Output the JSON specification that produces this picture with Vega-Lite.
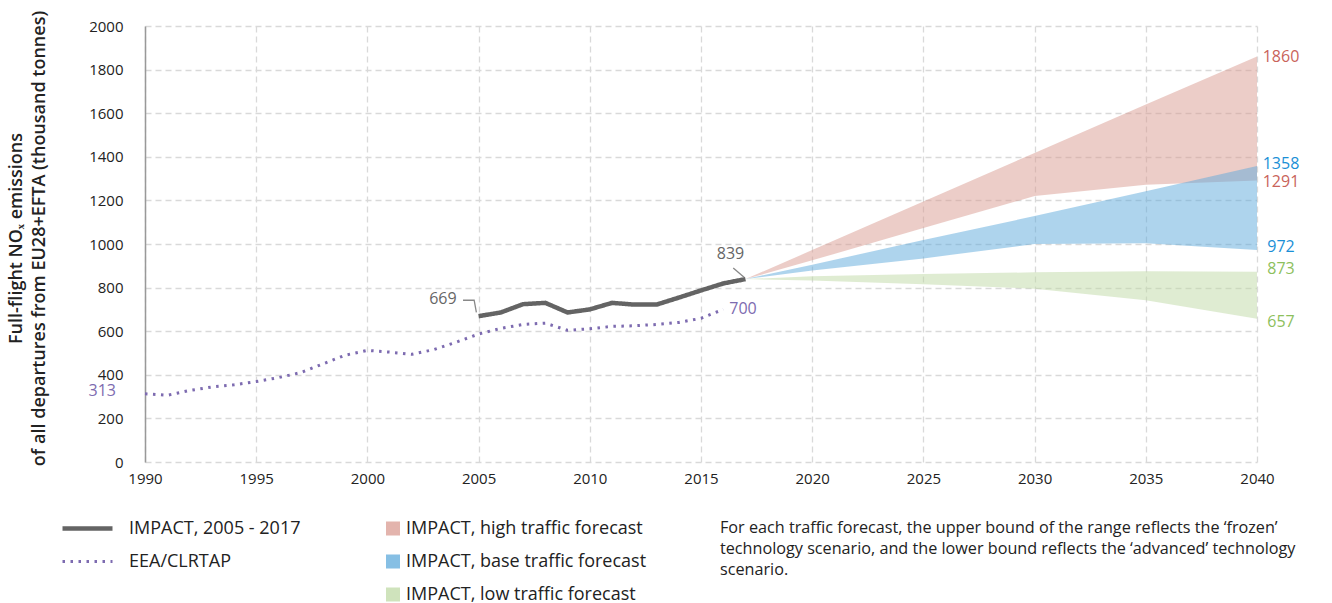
{
  "$schema": "https://vega.github.io/schema/vega-lite/v6.json",
  "width": 1112,
  "height": 436,
  "autosize": {"type": "none"},
  "padding": {"left": 145, "top": 26, "right": 75, "bottom": 141},
  "background": "white",
  "config": {
    "font": "Open Sans",
    "view": {"stroke": null},
    "axis": {
      "gridColor": "#d9d9d9",
      "gridDash": [6, 4],
      "gridWidth": 1.3,
      "labelFontSize": 15,
      "labelColor": "#222",
      "ticks": false,
      "tickSize": 0
    }
  },
  "title": {
    "text": [
      "For each traffic forecast, the upper bound of the range reflects the ‘frozen’",
      "technology scenario, and the lower bound reflects the ‘advanced’ technology",
      "scenario."
    ],
    "orient": "top",
    "anchor": "start",
    "frame": "group",
    "baseline": "top",
    "dx": 575,
    "dy": 568,
    "offset": 0,
    "fontSize": 16.2,
    "fontWeight": "normal",
    "color": "#222",
    "lineHeight": 21
  },
  "datasets": {
    "bands": [
      {"forecast": "IMPACT, high traffic forecast", "year": 2017, "lo": 839, "hi": 839},
      {"forecast": "IMPACT, high traffic forecast", "year": 2020, "lo": 925, "hi": 972},
      {"forecast": "IMPACT, high traffic forecast", "year": 2025, "lo": 1073, "hi": 1195},
      {"forecast": "IMPACT, high traffic forecast", "year": 2030, "lo": 1220, "hi": 1418},
      {"forecast": "IMPACT, high traffic forecast", "year": 2035, "lo": 1272, "hi": 1640},
      {"forecast": "IMPACT, high traffic forecast", "year": 2040, "lo": 1291, "hi": 1860},
      {"forecast": "IMPACT, base traffic forecast", "year": 2017, "lo": 839, "hi": 839},
      {"forecast": "IMPACT, base traffic forecast", "year": 2020, "lo": 878, "hi": 905},
      {"forecast": "IMPACT, base traffic forecast", "year": 2025, "lo": 934, "hi": 1018},
      {"forecast": "IMPACT, base traffic forecast", "year": 2030, "lo": 1000, "hi": 1128},
      {"forecast": "IMPACT, base traffic forecast", "year": 2035, "lo": 1003, "hi": 1242},
      {"forecast": "IMPACT, base traffic forecast", "year": 2040, "lo": 972, "hi": 1358},
      {"forecast": "IMPACT, low traffic forecast", "year": 2017, "lo": 839, "hi": 839},
      {"forecast": "IMPACT, low traffic forecast", "year": 2020, "lo": 832, "hi": 852},
      {"forecast": "IMPACT, low traffic forecast", "year": 2025, "lo": 815, "hi": 862},
      {"forecast": "IMPACT, low traffic forecast", "year": 2030, "lo": 795, "hi": 870},
      {"forecast": "IMPACT, low traffic forecast", "year": 2035, "lo": 742, "hi": 875},
      {"forecast": "IMPACT, low traffic forecast", "year": 2040, "lo": 657, "hi": 873}
    ],
    "lines": [
      {"series": "IMPACT, 2005 - 2017", "year": 2005, "value": 669},
      {"series": "IMPACT, 2005 - 2017", "year": 2006, "value": 686},
      {"series": "IMPACT, 2005 - 2017", "year": 2007, "value": 724},
      {"series": "IMPACT, 2005 - 2017", "year": 2008, "value": 730},
      {"series": "IMPACT, 2005 - 2017", "year": 2009, "value": 686},
      {"series": "IMPACT, 2005 - 2017", "year": 2010, "value": 700},
      {"series": "IMPACT, 2005 - 2017", "year": 2011, "value": 730},
      {"series": "IMPACT, 2005 - 2017", "year": 2012, "value": 722},
      {"series": "IMPACT, 2005 - 2017", "year": 2013, "value": 722},
      {"series": "IMPACT, 2005 - 2017", "year": 2014, "value": 754},
      {"series": "IMPACT, 2005 - 2017", "year": 2015, "value": 787},
      {"series": "IMPACT, 2005 - 2017", "year": 2016, "value": 819},
      {"series": "IMPACT, 2005 - 2017", "year": 2017, "value": 839},
      {"series": "EEA/CLRTAP", "year": 1990, "value": 313},
      {"series": "EEA/CLRTAP", "year": 1991, "value": 306},
      {"series": "EEA/CLRTAP", "year": 1992, "value": 328},
      {"series": "EEA/CLRTAP", "year": 1993, "value": 344},
      {"series": "EEA/CLRTAP", "year": 1994, "value": 354},
      {"series": "EEA/CLRTAP", "year": 1995, "value": 369},
      {"series": "EEA/CLRTAP", "year": 1996, "value": 387},
      {"series": "EEA/CLRTAP", "year": 1997, "value": 410},
      {"series": "EEA/CLRTAP", "year": 1998, "value": 450},
      {"series": "EEA/CLRTAP", "year": 1999, "value": 490},
      {"series": "EEA/CLRTAP", "year": 2000, "value": 512},
      {"series": "EEA/CLRTAP", "year": 2001, "value": 504},
      {"series": "EEA/CLRTAP", "year": 2002, "value": 494},
      {"series": "EEA/CLRTAP", "year": 2003, "value": 516},
      {"series": "EEA/CLRTAP", "year": 2004, "value": 550},
      {"series": "EEA/CLRTAP", "year": 2005, "value": 587},
      {"series": "EEA/CLRTAP", "year": 2006, "value": 613},
      {"series": "EEA/CLRTAP", "year": 2007, "value": 631},
      {"series": "EEA/CLRTAP", "year": 2008, "value": 637},
      {"series": "EEA/CLRTAP", "year": 2009, "value": 604},
      {"series": "EEA/CLRTAP", "year": 2010, "value": 611},
      {"series": "EEA/CLRTAP", "year": 2011, "value": 622},
      {"series": "EEA/CLRTAP", "year": 2012, "value": 625},
      {"series": "EEA/CLRTAP", "year": 2013, "value": 631},
      {"series": "EEA/CLRTAP", "year": 2014, "value": 640},
      {"series": "EEA/CLRTAP", "year": 2015, "value": 659},
      {"series": "EEA/CLRTAP", "year": 2016, "value": 700}
    ],
    "leaders": [
      {"id": "a", "order": 1, "year": 2004.3, "value": 742},
      {"id": "a", "order": 2, "year": 2004.8, "value": 742},
      {"id": "a", "order": 3, "year": 2004.9, "value": 686},
      {"id": "b", "order": 1, "year": 2016.45, "value": 890},
      {"id": "b", "order": 2, "year": 2016.95, "value": 846}
    ],
    "endlabels": [
      {"label": "1860", "year": 2040, "value": 1860, "grp": "high"},
      {"label": "1358", "year": 2040, "value": 1367, "grp": "base"},
      {"label": "1291", "year": 2040, "value": 1285, "grp": "high"},
      {"label": "972", "year": 2040, "value": 985, "grp": "base"},
      {"label": "873", "year": 2040, "value": 886, "grp": "low"},
      {"label": "657", "year": 2040, "value": 643, "grp": "low"}
    ]
  },
  "layer": [
    {
      "data": {"name": "bands"},
      "mark": {"type": "area", "fillOpacity": 0.5, "orient": "vertical"},
      "encoding": {
        "x": {
          "field": "year", "type": "quantitative",
          "scale": {"domain": [1990, 2040], "nice": false, "zero": false},
          "axis": {
            "title": null, "values": [1990, 1995, 2000, 2005, 2010, 2015, 2020, 2025, 2030, 2035, 2040],
            "format": "d", "domain": false, "labelPadding": 9, "grid": true, "labelFlush": false
          }
        },
        "y": {
          "field": "hi", "type": "quantitative",
          "scale": {"domain": [0, 2000], "nice": false},
          "axis": {
            "values": [0, 200, 400, 600, 800, 1000, 1200, 1400, 1600, 1800, 2000],
            "format": "d",
            "labelPadding": 22, "domain": true, "domainColor": "#999", "domainWidth": 1.5,
            "title": ["Full-flight NOₓ emissions", "of all departures from EU28+EFTA (thousand tonnes)"],
            "titleFont": "Open Sans",
            "titleFontSize": 18, "titleFontWeight": 600, "titleColor": "#222",
            "titleAngle": -90, "titleBaseline": "top", "titleAlign": "center",
            "titleX": -138, "titleY": 212, "titleLineHeight": 23
          }
        },
        "y2": {"field": "lo"},
        "fill": {
          "field": "forecast", "type": "nominal",
          "scale": {
            "domain": ["IMPACT, high traffic forecast", "IMPACT, base traffic forecast", "IMPACT, low traffic forecast"],
            "range": ["#d99b91", "#5da9db", "#bfd9a5"]
          },
          "legend": {
            "title": null, "orient": "none", "legendX": 239, "legendY": 494,
            "symbolType": "square", "symbolSize": 196, "symbolStrokeWidth": 0,
            "symbolOpacity": 0.75, "clipHeight": 17,
            "labelFontSize": 18, "labelColor": "#222", "labelOffset": 4, "rowPadding": 14,
            "labelLimit": 400
          }
        }
      }
    },
    {
      "data": {"name": "lines"},
      "mark": {"type": "line", "strokeJoin": "round"},
      "encoding": {
        "x": {"field": "year", "type": "quantitative"},
        "y": {"field": "value", "type": "quantitative"},
        "stroke": {
          "field": "series", "type": "nominal",
          "scale": {"domain": ["IMPACT, 2005 - 2017", "EEA/CLRTAP"], "range": ["#646464", "#7d6bb0"]},
          "legend": {
            "title": null, "orient": "none", "legendX": -85, "legendY": 494,
            "symbolType": "stroke", "symbolSize": 2500, "symbolStrokeWidth": 4, "clipHeight": 17,
            "labelFontSize": 18, "labelColor": "#222", "labelOffset": 14, "rowPadding": 14,
            "labelLimit": 400
          }
        },
        "strokeDash": {
          "field": "series", "type": "nominal",
          "scale": {"domain": ["IMPACT, 2005 - 2017", "EEA/CLRTAP"], "range": [[1, 0], [2.5, 5.5]]},
          "legend": {
            "title": null, "orient": "none", "legendX": -85, "legendY": 494,
            "symbolType": "stroke", "symbolSize": 2500, "symbolStrokeWidth": 4, "clipHeight": 17,
            "labelFontSize": 18, "labelColor": "#222", "labelOffset": 14, "rowPadding": 14,
            "labelLimit": 400
          }
        },
        "strokeWidth": {
          "field": "series", "type": "nominal",
          "scale": {"domain": ["IMPACT, 2005 - 2017", "EEA/CLRTAP"], "range": [4.5, 3]},
          "legend": null
        }
      }
    },
    {
      "data": {"name": "leaders"},
      "mark": {"type": "line", "stroke": "#888", "strokeWidth": 1.3},
      "encoding": {
        "x": {"field": "year", "type": "quantitative"},
        "y": {"field": "value", "type": "quantitative"},
        "detail": {"field": "id"},
        "order": {"field": "order", "type": "quantitative"}
      }
    },
    {
      "data": {"name": "endlabels"},
      "mark": {"type": "text", "align": "center", "baseline": "middle", "dx": 24, "fontSize": 16},
      "encoding": {
        "x": {"field": "year", "type": "quantitative"},
        "y": {"field": "value", "type": "quantitative"},
        "text": {"field": "label"},
        "color": {
          "field": "grp", "type": "nominal",
          "scale": {"domain": ["high", "base", "low"], "range": ["#c9635a", "#1a8fd6", "#8dc05c"]},
          "legend": null
        }
      }
    },
    {
      "data": {"values": [{"label": "313", "year": 1990, "value": 313}]},
      "mark": {"type": "text", "align": "right", "baseline": "middle", "dx": -29, "dy": -3, "fontSize": 16, "color": "#7d6bb0"},
      "encoding": {
        "x": {"field": "year", "type": "quantitative"},
        "y": {"field": "value", "type": "quantitative"},
        "text": {"field": "label"}
      }
    },
    {
      "data": {"values": [{"label": "700", "year": 2016, "value": 700}]},
      "mark": {"type": "text", "align": "left", "baseline": "middle", "dx": 6, "fontSize": 16, "color": "#7d6bb0"},
      "encoding": {
        "x": {"field": "year", "type": "quantitative"},
        "y": {"field": "value", "type": "quantitative"},
        "text": {"field": "label"}
      }
    },
    {
      "data": {"values": [{"label": "669", "year": 2005, "value": 669}]},
      "mark": {"type": "text", "align": "right", "baseline": "middle", "dx": -22, "dy": -17, "fontSize": 16, "color": "#666"},
      "encoding": {
        "x": {"field": "year", "type": "quantitative"},
        "y": {"field": "value", "type": "quantitative"},
        "text": {"field": "label"}
      }
    },
    {
      "data": {"values": [{"label": "839", "year": 2017, "value": 839}]},
      "mark": {"type": "text", "align": "center", "baseline": "middle", "dx": -15, "dy": -25, "fontSize": 16, "color": "#666"},
      "encoding": {
        "x": {"field": "year", "type": "quantitative"},
        "y": {"field": "value", "type": "quantitative"},
        "text": {"field": "label"}
      }
    }
  ]
}
